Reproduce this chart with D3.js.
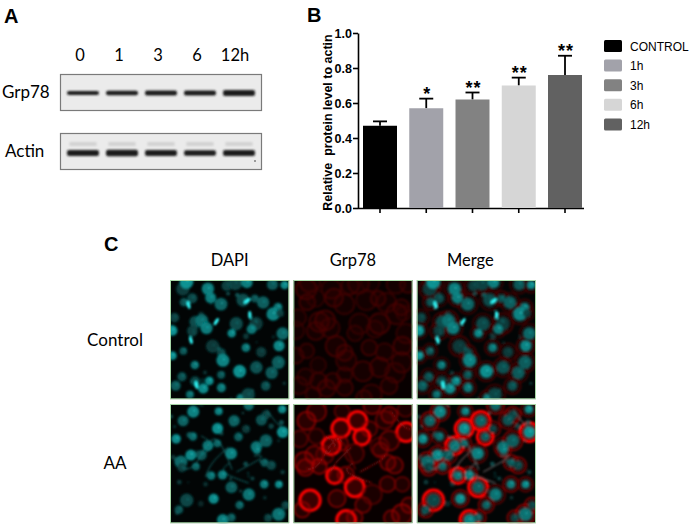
<!DOCTYPE html>
<html>
<head>
<meta charset="utf-8">
<script src="https://cdn.jsdelivr.net/npm/d3@7"></script>
<style>
  body { margin: 0; background: #fff; }
  svg { display: block; }
</style>
</head>
<body>
<svg id="fig" width="692" height="526"></svg>
<script>
// bar chart values (panel B)
const categories = ["CONTROL", "1h", "3h", "6h", "12h"];
const means = [0.47, 0.57, 0.62, 0.70, 0.76];
const errors = [0.025, 0.055, 0.04, 0.045, 0.11];
const stars = ["", "*", "**", "**", "**"];
const barColors = ["#000000", "#a2a2aa", "#828282", "#d6d6d6", "#616161"];
const yTicks = [0, 0.2, 0.4, 0.6, 0.8, 1.0];

// blot (panel A)
const lanes = ["0", "1", "3", "6", "12h"];
const grpBand = [4, 4.5, 5, 5, 6];
const actinBand = [6, 6.5, 6, 5.5, 6];

// microscopy (panel C)
const channels = ["DAPI", "Grp78", "Merge"];
const conditions = ["Control", "AA"];

const svg = d3.select("#fig");
const defs = svg.append("defs");
defs.append("filter").attr("id", "blur1").attr("x", "-20%").attr("y", "-50%").attr("width", "140%").attr("height", "200%")
  .append("feGaussianBlur").attr("stdDeviation", 1.1);
defs.append("filter").attr("id", "blur2").append("feGaussianBlur").attr("stdDeviation", 1.1);

const bold = "'Liberation Sans', Arial, sans-serif";
const calib = "Lato, 'Open Sans', sans-serif";

// ---------- Panel A ----------
svg.append("text").attr("x", 4).attr("y", 23).attr("font-family", bold).attr("font-weight", "bold")
  .attr("font-size", 20).text("A");

const lx = d3.scaleBand().domain(lanes).range([67, 255]).paddingInner(0.18);

svg.append("g").selectAll("text").data(lanes).join("text")
  .attr("x", (d, i) => lx(d) + lx.bandwidth() / 2 + (i === 4 ? -4 : -3))
  .attr("y", 61)
  .attr("text-anchor", "middle")
  .attr("font-family", calib).attr("font-size", 16.5)
  .text(d => d);

function blot(y0, h, label, thick, faint) {
  const g = svg.append("g");
  g.append("rect").attr("x", 60.5).attr("y", y0 + 0.5).attr("width", 201).attr("height", h)
    .attr("fill", "#ebebeb").attr("stroke", "#7a7a7a").attr("stroke-width", 1.2);
  g.append("text").attr("x", label === "Grp78" ? 2 : 5).attr("y", y0 + h / 2 + 6)
    .attr("font-family", calib).attr("font-size", 17).text(label);
  const bands = g.append("g").attr("filter", "url(#blur1)");
  lanes.forEach((d, i) => {
    const cy = y0 + (faint ? 20 : 19);
    if (faint) {
      bands.append("rect").attr("x", lx(d) + 2).attr("y", cy - 11).attr("width", lx.bandwidth() - 4)
        .attr("height", 4).attr("rx", 2).attr("fill", "#d2d2d2");
    }
    bands.append("rect").attr("x", lx(d)).attr("y", cy - thick[i] / 2).attr("width", lx.bandwidth())
      .attr("height", thick[i]).attr("rx", 2).attr("fill", "#1e1e1e");
  });
}
blot(74, 36, "Grp78", grpBand, false);
blot(133, 36, "Actin", actinBand, true);
svg.append("circle").attr("cx", 255).attr("cy", 161).attr("r", 0.8).attr("fill", "#333");

// ---------- Panel B ----------
svg.append("text").attr("x", 307).attr("y", 22).attr("font-family", bold).attr("font-weight", "bold")
  .attr("font-size", 20).text("B");

const x = d3.scaleBand().domain(categories).range([363, 582]).paddingInner(0.265).paddingOuter(0);
const y = d3.scaleLinear().domain([0, 1]).range([208, 33]);

const yAxis = svg.append("g").attr("transform", "translate(358,0)")
  .call(d3.axisLeft(y).tickValues(yTicks).tickFormat(d3.format(".1f")).tickSize(5).tickSizeOuter(0));
yAxis.select(".domain").attr("stroke-width", 1.6);
yAxis.selectAll(".tick line").attr("stroke-width", 1.6);
yAxis.selectAll("text").attr("font-family", bold).attr("font-weight", "bold").attr("font-size", 12.5).attr("x", -6);

const xAxis = svg.append("g").attr("transform", "translate(0,208)")
  .call(d3.axisBottom(x).tickFormat("").tickSize(5).tickSizeOuter(0));
xAxis.select(".domain").attr("d", "M358,0.5H584").attr("stroke-width", 1.6);
xAxis.selectAll(".tick line").attr("stroke-width", 1.6);

svg.append("text")
  .attr("transform", `translate(332,${(y(0) + y(1)) / 2 + 2}) rotate(-90)`)
  .attr("text-anchor", "middle").attr("font-family", bold).attr("font-weight", "bold").attr("font-size", 12.5)
  .attr("xml:space", "preserve")
  .text("Relative  protein level to actin");

const bars = svg.append("g");
categories.forEach((c, i) => {
  const cx = x(c) + x.bandwidth() / 2;
  const top = y(means[i] + errors[i]);
  bars.append("line").attr("x1", cx).attr("x2", cx).attr("y1", y(means[i])).attr("y2", top)
    .attr("stroke", "#000").attr("stroke-width", 1.8);
  bars.append("line").attr("x1", cx - 7).attr("x2", cx + 7).attr("y1", top).attr("y2", top)
    .attr("stroke", "#000").attr("stroke-width", 1.8);
  bars.append("rect").attr("x", x(c)).attr("y", y(means[i])).attr("width", x.bandwidth())
    .attr("height", y(0) - y(means[i])).attr("fill", barColors[i]);
  bars.append("text").attr("x", cx + 1).attr("y", top + 1)
    .attr("text-anchor", "middle").attr("font-family", bold).attr("font-weight", "bold").attr("font-size", 18)
    .attr("letter-spacing", 1)
    .text(stars[i]);
});

const legend = svg.append("g");
categories.forEach((c, i) => {
  const ly = 40 + i * 19.6;
  legend.append("rect").attr("x", 604).attr("y", ly).attr("width", 18).attr("height", 12).attr("rx", 1.5)
    .attr("fill", barColors[i]);
  legend.append("text").attr("x", 630).attr("y", ly + 10.5)
    .attr("font-family", bold).attr("font-size", 12)
    .text(c);
});

// ---------- Panel C ----------
svg.append("text").attr("x", 104).attr("y", 251).attr("font-family", bold).attr("font-weight", "bold")
  .attr("font-size", 20).text("C");

const colX = d3.scaleBand().domain(channels).range([170, 536]).paddingInner(0.033);
const rowY = d3.scaleBand().domain(conditions).range([280, 523]).paddingInner(0.04);
const S = colX.bandwidth();

svg.append("g").selectAll("text").data(channels).join("text")
  .attr("x", d => colX(d) + S / 2 + (d === "Merge" ? -6 : 0)).attr("y", 266).attr("text-anchor", "middle")
  .attr("font-family", calib).attr("font-size", 16.5).text(d => d);

svg.append("g").selectAll("text").data(conditions).join("text")
  .attr("x", 115).attr("y", d => rowY(d) + rowY.bandwidth() / 2 + 6).attr("text-anchor", "middle")
  .attr("font-family", calib).attr("font-size", 17).text(d => d);

// deterministic cell texture per condition (seeded, decoration only)
function cellsFor(seed, aa) {
  const rnd = d3.randomLcg(seed);
  const cells = [];
  const n = 8;
  for (let r = 0; r < n; r++) {
    for (let c = 0; c < n; c++) {
      if (rnd() < (aa ? 0.3 : 0.2)) continue;
      cells.push({
        x: (c + 0.5) * S / n + (rnd() - 0.5) * 13,
        y: (r + 0.5) * S / n + (rnd() - 0.5) * 13,
        r: 3.8 + rnd() * 3.2,
        b: rnd(),
        red: aa ? (rnd() < 0.08 ? 1 : 0.28 + rnd() * 0.35) : 0.08 + rnd() * 0.14
      });
    }
  }
  const extra = [];
  for (let k = 0; k < (aa ? 30 : 20); k++) {
    extra.push({ x: rnd() * S, y: rnd() * S, r: 1 + rnd() * 2, b: 0.3 + rnd() * 0.5 });
  }
  const mitotic = [];
  if (!aa) {
    for (let k = 0; k < 6; k++) mitotic.push({ x: 10 + rnd() * (S - 20), y: 10 + rnd() * (S - 20), a: rnd() * 180 });
  }
  const fibres = [];
  if (aa) {
    for (let k = 0; k < 8; k++) {
      const x0 = rnd() * S, y0 = rnd() * S;
      fibres.push([[x0, y0], [x0 + (rnd() - 0.5) * 40, y0 + (rnd() - 0.5) * 40], [x0 + (rnd() - 0.5) * 60, y0 + (rnd() - 0.5) * 60]]);
    }
  }
  return { cells, extra, mitotic, fibres };
}

const curve = d3.line().curve(d3.curveBasis);

conditions.forEach((cond, ri) => {
  const aa = cond === "AA";
  const layout = cellsFor(aa ? 23 : 7, aa);
  channels.forEach(ch => {
    const px = colX(ch), py = rowY(cond);
    const id = `clip-${ri}-${ch}`;
    defs.append("clipPath").attr("id", id).append("rect").attr("width", S).attr("height", S);
    const g = svg.append("g").attr("transform", `translate(${px},${py})`);
    const inner = g.append("g").attr("clip-path", `url(#${id})`);
    inner.append("rect").attr("width", S).attr("height", S).attr("fill", ch === "Grp78" ? "#080000" : "#020505");
    const tex = inner.append("g").attr("filter", "url(#blur2)");

    if (ch !== "DAPI") {
      layout.cells.forEach(c => {
        const v = c.red;
        const col = d3.rgb(Math.round(40 + 215 * v), Math.round(6 * v), Math.round(6 * v));
        tex.append("circle").attr("cx", c.x).attr("cy", c.y).attr("r", c.r + 3.5)
          .attr("fill", col.copy({ opacity: 0.2 }))
          .attr("stroke", col).attr("stroke-opacity", v > 0.9 ? 1 : 0.85)
          .attr("stroke-width", v > 0.9 ? 3 : 1.5);
      });
      if (aa) {
        layout.fibres.forEach(f => tex.append("path").attr("d", curve(f)).attr("fill", "none")
          .attr("stroke", "#801010").attr("stroke-width", 1.2));
      }
    }
    if (ch !== "Grp78") {
      layout.cells.forEach(c => {
        const lv = Math.round(60 + 100 * c.b);
        tex.append("circle").attr("cx", c.x).attr("cy", c.y).attr("r", c.r)
          .attr("fill", d3.rgb(8, lv, lv)).attr("opacity", 0.9);
        tex.append("circle").attr("cx", c.x + 1).attr("cy", c.y - 1).attr("r", 1.1)
          .attr("fill", "#3ad8d8").attr("opacity", 0.5 * c.b + 0.15);
      });
      layout.extra.forEach(e => {
        tex.append("circle").attr("cx", e.x).attr("cy", e.y).attr("r", e.r).attr("fill", "#116868").attr("opacity", e.b);
      });
      layout.mitotic.forEach(m => {
        tex.append("ellipse").attr("cx", m.x).attr("cy", m.y).attr("rx", 4).attr("ry", 1.6)
          .attr("transform", `rotate(${m.a},${m.x},${m.y})`).attr("fill", "#30ffff");
      });
      if (aa) {
        layout.fibres.forEach(f => tex.append("path").attr("d", curve(f)).attr("fill", "none")
          .attr("stroke", "#1d8f8f").attr("stroke-width", 0.9).attr("opacity", 0.8));
      }
    }
    g.append("rect").attr("x", 0.5).attr("y", 0.5).attr("width", S - 1).attr("height", S - 1)
      .attr("fill", "none").attr("stroke", "#a8d8a8").attr("stroke-width", 1);
  });
});
</script>
</body>
</html>
